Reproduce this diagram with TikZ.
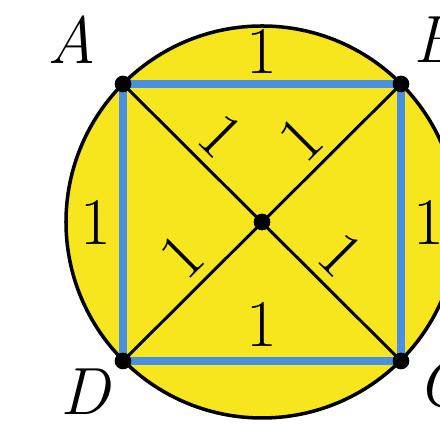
\documentclass[tikz,border=0pt]{standalone}
\usetikzlibrary{positioning}
\definecolor{discfill}{RGB}{247,230,30}
\definecolor{sqblue}{RGB}{74,144,226}
\tikzset{
  disc/.style   = {draw=black, line width=2pt, fill=discfill},
  side/.style   = {draw=sqblue, line width=4pt},
  diag/.style   = {draw=black, line width=1.7pt},
  dot/.style    = {circle, fill=black, inner sep=0pt, minimum size=9.5pt},
  vlabel/.style = {font=\fontsize{38}{44}\selectfont\itshape, inner sep=0pt},
  wlabel/.style = {font=\fontsize{38}{44}\selectfont, inner sep=5pt},
}
\begin{document}
\begin{tikzpicture}[x=0.02cm, y=0.02cm]
  \useasboundingbox (0,0) rectangle (440,431);
  % corners and centre
  \foreach \v/\x/\y in {A/123/347, B/401/347, C/401/70, D/123/70, O/262/209} {
    \coordinate (\v) at (\x,\y);
  }
  \draw[disc] (O) circle [radius=196];
  % square
  \draw[side] (A) -- node[wlabel, above, inner sep=4pt] (wAB) {1} (B)
                  -- node[wlabel, right, inner sep=5pt] (wBC) {1} (C)
                  -- node[wlabel, above, inner sep=6pt] (wCD) {1} (D)
                  -- node[wlabel, left, inner sep=5pt] (wDA) {1} cycle;
  % diagonals
  \draw[diag] (A) -- node[wlabel, sloped, above, pos=0.27] (wAO) {1}
                     node[wlabel, sloped, above, pos=0.70] (wOC) {1} (C);
  \draw[diag] (D) -- node[wlabel, sloped, above, pos=0.295] (wDO) {1}
                     node[wlabel, sloped, above, pos=0.72] (wOB) {1} (B);
  \foreach \v in {A,B,C,D,O} {
    \node[dot] (d\v) at (\v) {};
  }
  \node[vlabel] (lA) at (72,391) {A};
  \node[vlabel] (lB) at (436,391) {B};
  \node[vlabel] (lC) at (441,47) {C};
  \node[vlabel] (lD) at (85,39) {D};
\end{tikzpicture}
\end{document}
